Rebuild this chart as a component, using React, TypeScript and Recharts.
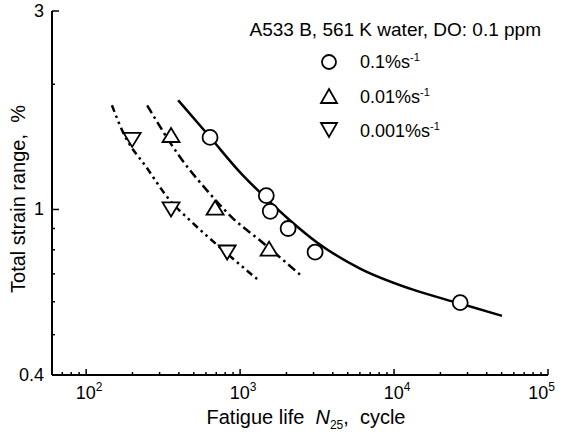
import React from "react";
import { ComposedChart, Line, Scatter, XAxis, YAxis } from "recharts";

// measured points, strain rate 0.1 %/s (circles)
const fastN = [638, 1480, 1570, 2050, 3070, 26900];
const fastE = [1.49, 1.08, 0.99, 0.9, 0.79, 0.597];
// 0.01 %/s (up triangles)
const midN = [356, 688, 1542];
const midE = [1.51, 1.01, 0.805];
// 0.001 %/s (down triangles)
const slowN = [199, 356, 824];
const slowE = [1.47, 1.0, 0.788];

// fitted curves
const fastFitN = [396, 639, 1000, 1453, 2112, 3162, 6015, 12700, 26830, 50260];
const fastFitE = [1.831, 1.491, 1.228, 1.069, 0.941, 0.833, 0.721, 0.645, 0.594, 0.555];
const midFitN = [249, 408, 611, 901, 1349, 2530];
const midFitE = [1.78, 1.335, 1.11, 0.951, 0.842, 0.69];
const slowFitN = [147, 174, 249, 351, 473, 741, 1349];
const slowFitE = [1.78, 1.53, 1.256, 1.05, 0.941, 0.81, 0.671];

const xMajor = [100, 1000, 10000, 100000];
const xTicks = [60, 70, 80, 90, 100, 200, 300, 400, 500, 600, 700, 800, 900, 1000,
  2000, 3000, 4000, 5000, 6000, 7000, 8000, 9000, 10000,
  20000, 30000, 40000, 50000, 60000, 70000, 80000, 90000, 100000];
const yMajor = [0.4, 1, 3];
const yTicks = [0.4, 0.5, 0.6, 0.7, 0.8, 0.9, 1, 2, 3];

const zip = (n: number[], e: number[]) => n.map((v, i) => ({ n: v, e: e[i] }));

const fastPts = zip(fastN, fastE);
const midPts = zip(midN, midE);
const slowPts = zip(slowN, slowE);
const fastFit = zip(fastFitN, fastFitE);
const midFit = zip(midFitN, midFitE);
const slowFit = zip(slowFitN, slowFitE);

const FONT = "'Liberation Sans', Arial, sans-serif";

const Circle = ({ cx, cy, r = 7.5 }: any) => (
  <circle cx={cx} cy={cy} r={r} fill="#fff" stroke="#000" strokeWidth={1.8} />
);
const TriUp = ({ cx, cy, s = 8.5 }: any) => (
  <path d={`M${cx},${cy - 7} L${cx + s},${cy + 7} L${cx - s},${cy + 7} Z`} fill="#fff" stroke="#000" strokeWidth={1.8} />
);
const TriDown = ({ cx, cy, s = 8.5 }: any) => (
  <path d={`M${cx - s},${cy - 7} L${cx + s},${cy - 7} L${cx},${cy + 7} Z`} fill="#fff" stroke="#000" strokeWidth={1.8} />
);

const XTick = ({ x, y, payload }: any) => {
  const v = payload.value;
  const major = xMajor.includes(v);
  const last = v === 100000;
  return (
    <g>
      <line x1={x} x2={x} y1={y} y2={y - (major ? 6 : 3)} stroke="#000" strokeWidth={1.5} />
      {major && (
        <text x={last ? x + 7 : x + 3} y={y + 24} textAnchor={last ? "end" : "middle"} fontSize={18} fontFamily={FONT} fill="#000">
          10<tspan dy={-8} fontSize={12}>{Math.round(Math.log10(v))}</tspan>
        </text>
      )}
    </g>
  );
};

const YTick = ({ x, y, payload }: any) => {
  const v = payload.value;
  const major = yMajor.includes(v);
  return (
    <g>
      <line x1={x} x2={x + (major ? 7 : 3)} y1={y} y2={y} stroke="#000" strokeWidth={1.5} />
      {major && (
        <text x={x - 8} y={y + 6} textAnchor="end" fontSize={18} fontFamily={FONT} fill="#000">
          {v}
        </text>
      )}
    </g>
  );
};

export default function App() {
  return (
    <div style={{ position: "absolute", left: 0, top: 0, width: 561, height: 434, background: "#fff" }}>
      <ComposedChart width={561} height={434} margin={{ top: 11, right: 13, left: 0, bottom: 0 }}>
        <XAxis dataKey="n" type="number" scale="log" domain={[60, 100000]} ticks={xTicks}
          allowDataOverflow interval={0} tick={<XTick />} tickLine={false} tickSize={0} tickMargin={0}
          height={59} axisLine={{ stroke: "#000", strokeWidth: 2 }} />
        <XAxis xAxisId="top" orientation="top" type="number" scale="log" domain={[60, 100000]}
          allowDataOverflow tick={false} tickLine={false} height={0} axisLine={{ stroke: "#000", strokeWidth: 2 }} />
        <YAxis dataKey="e" type="number" scale="log" domain={[0.4, 3]} ticks={yTicks}
          allowDataOverflow interval={0} tick={<YTick />} tickLine={false} tickSize={0} tickMargin={0}
          width={52} axisLine={{ stroke: "#000", strokeWidth: 2 }} />
        <YAxis yAxisId="right" orientation="right" type="number" scale="log" domain={[0.4, 3]}
          allowDataOverflow tick={false} tickLine={false} width={0} axisLine={{ stroke: "#000", strokeWidth: 2 }} />

        <Line data={fastFit} dataKey="e" type="monotone" stroke="#000" strokeWidth={2.5} dot={false} isAnimationActive={false} />
        <Line data={midFit} dataKey="e" type="monotone" stroke="#000" strokeWidth={2.5} strokeDasharray="9 4 2.5 4" dot={false} isAnimationActive={false} />
        <Line data={slowFit} dataKey="e" type="monotone" stroke="#000" strokeWidth={2.5} strokeDasharray="7 4 2.5 4 2.5 4" dot={false} isAnimationActive={false} />

        <Scatter data={fastPts} dataKey="e" shape={<Circle />} isAnimationActive={false} />
        <Scatter data={midPts} dataKey="e" shape={<TriUp />} isAnimationActive={false} />
        <Scatter data={slowPts} dataKey="e" shape={<TriDown />} isAnimationActive={false} />
      </ComposedChart>

      <svg width={561} height={434} style={{ position: "absolute", left: 0, top: 0, pointerEvents: "none" }}>
        <text x={541} y={36} textAnchor="end" fontSize={19} fontFamily={FONT} fill="#000">
          A533 B, 561 K water, DO: 0.1 ppm
        </text>
        <Circle cx={329} cy={62} r={7} />
        <text x={360} y={68} fontSize={18} fontFamily={FONT} fill="#000">
          0.1%s<tspan dy={-7} fontSize={11}>-1</tspan>
        </text>
        <TriUp cx={329} cy={96} s={8} />
        <text x={360} y={103} fontSize={18} fontFamily={FONT} fill="#000">
          0.01%s<tspan dy={-7} fontSize={11}>-1</tspan>
        </text>
        <TriDown cx={329} cy={130} s={8} />
        <text x={360} y={137} fontSize={18} fontFamily={FONT} fill="#000">
          0.001%s<tspan dy={-7} fontSize={11}>-1</tspan>
        </text>

        <text x={306} y={424} textAnchor="middle" fontSize={20} fontFamily={FONT} fill="#000" xmlSpace="preserve">
          Fatigue life  <tspan fontStyle="italic">N</tspan><tspan dy={5} fontSize={12}>25</tspan><tspan dy={-5}>,  cycle</tspan>
        </text>
        <text x={25} y={199} transform="rotate(-90 25 199)" textAnchor="middle" fontSize={20} fontFamily={FONT} fill="#000" xmlSpace="preserve">
          Total strain range,  %
        </text>
      </svg>
    </div>
  );
}
